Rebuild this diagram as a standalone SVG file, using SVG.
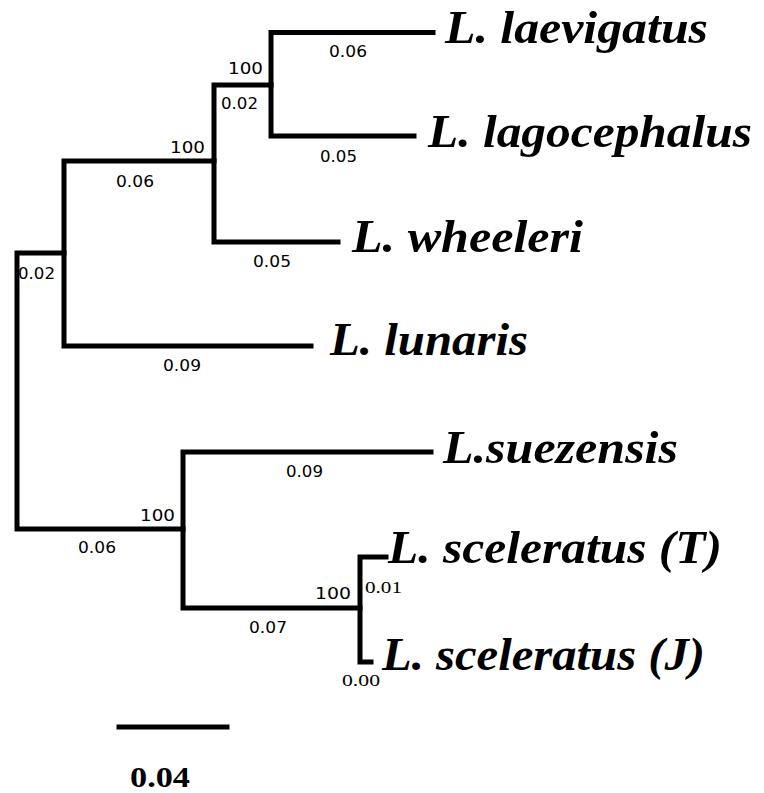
<svg xmlns="http://www.w3.org/2000/svg" width="764" height="793" viewBox="0 0 764 793">
<style>
.br{fill:none;stroke:#000;stroke-width:5;stroke-linejoin:miter;stroke-linecap:square}
.sp{font-family:"Liberation Serif","Times New Roman",serif;font-weight:bold;font-style:italic;font-size:47px;fill:#000}
.bl{font-family:"DejaVu Sans",Verdana,sans-serif;font-size:15.5px;fill:#000}
.bs{font-family:"Liberation Serif","Times New Roman",serif;font-size:17px;fill:#000}
.sc{font-family:"Liberation Serif","Times New Roman",serif;font-weight:bold;font-size:30px;fill:#000}
</style>
<rect width="764" height="793" fill="#fff"/>
<g id="connectors">
<path class="br" d="M64,253 H17 V529 H183"/>
<path class="br" d="M214,161 H64 V346 H311"/>
<path class="br" d="M271,85 H214 V242 H338"/>
<path class="br" d="M433,32.5 H271 V136 H414"/>
<path class="br" d="M431,452 H183 V608 H360"/>
<path class="br" d="M386,557 H360 V662 H371"/>
<path class="br" d="M119,727 H227"/>
</g>
<g id="node-laevigatus"><text class="sp" x="445" y="43" textLength="263" lengthAdjust="spacingAndGlyphs">L. laevigatus</text></g>
<g id="node-lagocephalus"><text class="sp" x="428" y="147" textLength="324" lengthAdjust="spacingAndGlyphs">L. lagocephalus</text></g>
<g id="node-wheeleri"><text class="sp" x="352" y="252" textLength="231" lengthAdjust="spacingAndGlyphs">L. wheeleri</text></g>
<g id="node-lunaris"><text class="sp" x="330" y="355" textLength="198" lengthAdjust="spacingAndGlyphs">L. lunaris</text></g>
<g id="node-suezensis"><text class="sp" x="443" y="463" textLength="235" lengthAdjust="spacingAndGlyphs">L.suezensis</text></g>
<g id="node-sceleratus-T"><text class="sp" x="388" y="563" textLength="334" lengthAdjust="spacingAndGlyphs">L. sceleratus (T)</text></g>
<g id="node-sceleratus-J"><text class="sp" x="382" y="670" textLength="323" lengthAdjust="spacingAndGlyphs">L. sceleratus (J)</text></g>
<g id="branch-labels">
<text class="bl" x="329" y="57" textLength="38" lengthAdjust="spacingAndGlyphs">0.06</text>
<text class="bl" x="320" y="162" textLength="37" lengthAdjust="spacingAndGlyphs">0.05</text>
<text class="bl" x="228" y="74" textLength="35" lengthAdjust="spacingAndGlyphs">100</text>
<text class="bl" x="221" y="109" textLength="37" lengthAdjust="spacingAndGlyphs">0.02</text>
<text class="bl" x="170" y="153" textLength="35" lengthAdjust="spacingAndGlyphs">100</text>
<text class="bl" x="116" y="187" textLength="38" lengthAdjust="spacingAndGlyphs">0.06</text>
<text class="bl" x="253" y="267" textLength="38" lengthAdjust="spacingAndGlyphs">0.05</text>
<text class="bl" x="18" y="279" textLength="37" lengthAdjust="spacingAndGlyphs">0.02</text>
<text class="bl" x="163" y="371" textLength="38" lengthAdjust="spacingAndGlyphs">0.09</text>
<text class="bl" x="286" y="477" textLength="37" lengthAdjust="spacingAndGlyphs">0.09</text>
<text class="bl" x="140" y="521" textLength="35" lengthAdjust="spacingAndGlyphs">100</text>
<text class="bl" x="78" y="553" textLength="38" lengthAdjust="spacingAndGlyphs">0.06</text>
<text class="bl" x="249" y="633" textLength="38" lengthAdjust="spacingAndGlyphs">0.07</text>
<text class="bl" x="315" y="599" textLength="36" lengthAdjust="spacingAndGlyphs">100</text>
<text class="bs" x="365" y="593" textLength="37" lengthAdjust="spacingAndGlyphs">0.01</text>
<text class="bs" x="342" y="686" textLength="38" lengthAdjust="spacingAndGlyphs">0.00</text>
</g>
<g id="scale"><text class="sc" x="130" y="787" textLength="60" lengthAdjust="spacingAndGlyphs">0.04</text></g>
</svg>
